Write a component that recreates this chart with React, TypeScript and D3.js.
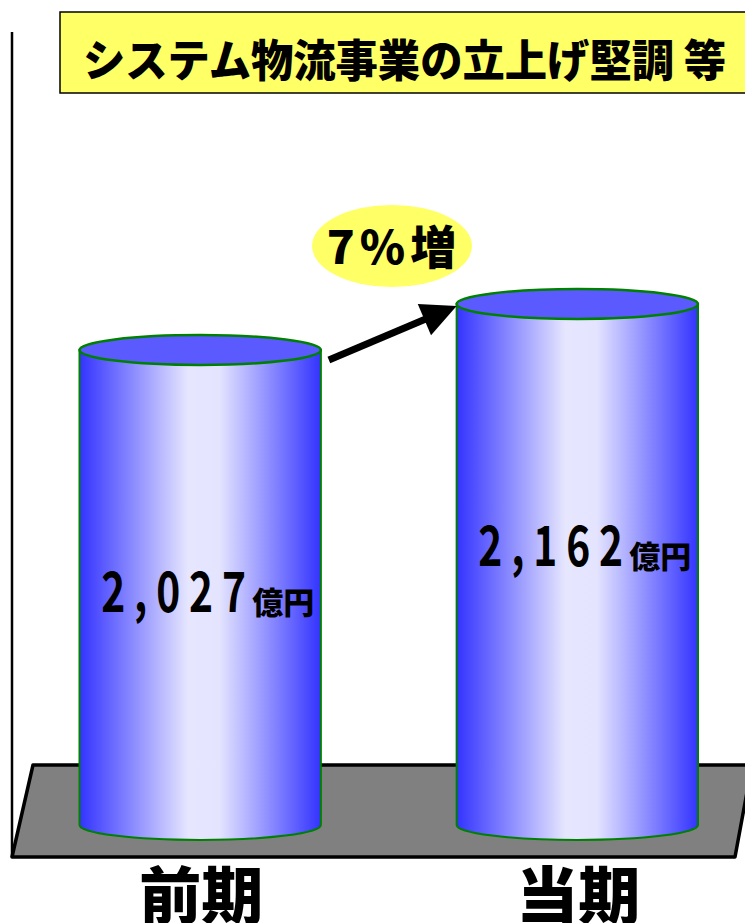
import React from 'react';
import * as d3 from 'd3';

// 前期 / 当期 sales (億円)
const categories = ['前期', '当期'];
const values = [2027, 2162];
const unit = '億円';
const title = 'システム物流事業の立上げ堅調 等';

const W = 745;
const H = 923;
const FLOOR_Y = 825; // where the cylinders stand
const RY = 15; // ellipse half-height of the cylinder caps

const JP = "'Noto Sans CJK JP', 'Noto Sans', sans-serif";

const App: React.FC = () => {
  const x = d3.scaleBand<string>()
    .domain(categories)
    .range([79.5, 698])
    .paddingInner(0.36)
    .paddingOuter(0);

  // baseline is not zero in the original drawing
  const y = d3.scaleLinear()
    .domain([633, 2162])
    .range([FLOOR_Y, 304]);

  const fmt = d3.format(',');
  const growth = Math.round((values[1] / values[0] - 1) * 100);

  const bars = categories.map((c, i) => {
    const left = x(c) as number;
    const right = left + x.bandwidth();
    const cx = left + x.bandwidth() / 2;
    const rx = x.bandwidth() / 2;
    const top = y(values[i]);
    return { c, v: values[i], left, right, cx, rx, top };
  });

  // arrow from first cap to second cap
  const b0 = bars[0];
  const b1 = bars[1];
  const tail = [b0.right + 8, b0.top + 10];
  const tip = [b1.left, b1.top + 2];
  const dx = tip[0] - tail[0];
  const dy = tip[1] - tail[1];
  const len = Math.hypot(dx, dy);
  const ux = dx / len;
  const uy = dy / len;
  const headLen = 35;
  const headHalf = 17;
  const base = [tip[0] - ux * headLen, tip[1] - uy * headLen];
  const head = [
    tip,
    [base[0] - uy * headHalf, base[1] + ux * headHalf],
    [base[0] + uy * headHalf, base[1] - ux * headHalf],
  ].map(p => p.join(',')).join(' ');

  return (
    <svg width={W} height={H} style={{ position: 'absolute', left: 0, top: 0, background: '#fff' }}>
      <defs>
        <linearGradient id="cyl" x1="0" x2="1" y1="0" y2="0">
          <stop offset="0" stopColor="#3333FF" />
          <stop offset="0.45" stopColor="#E6E6FF" />
          <stop offset="0.58" stopColor="#E4E4FF" />
          <stop offset="1" stopColor="#3333FF" />
        </linearGradient>
      </defs>

      {/* left wall */}
      <line x1={12} x2={12} y1={32} y2={857} stroke="#000" strokeWidth={2.5} />

      {/* floor */}
      <polygon
        points="33,765 752,765 735,857 12,857"
        fill="#808080"
        stroke="#000"
        strokeWidth={3.5}
        strokeLinejoin="round"
      />

      {/* title box */}
      <rect x={60} y={12} width={720} height={81} fill="#FFFF66" stroke="#000" strokeWidth={1.5} />
      <text
        x={83}
        y={77}
        fontFamily={JP}
        fontWeight={900}
        fontSize={44}
        textLength={643}
        lengthAdjust="spacingAndGlyphs"
      >
        {title}
      </text>

      {/* cylinders */}
      {bars.map(b => {
        const ly = b.top + 262;
        return (
          <g key={b.c}>
            <path
              d={`M${b.left},${b.top} L${b.left},${FLOOR_Y} A${b.rx},${RY} 0 0 0 ${b.right},${FLOOR_Y} L${b.right},${b.top} Z`}
              fill="url(#cyl)"
              stroke="#008000"
              strokeWidth={2}
            />
            <ellipse cx={b.cx} cy={b.top} rx={b.rx} ry={RY} fill="#5A5AFF" stroke="#008000" strokeWidth={2.5} />
            {/* narrow, widely spaced digits */}
            <text
              transform={`translate(${b.cx - 99},${ly}) scale(0.74,1)`}
              fontFamily={JP}
              fontWeight={700}
              fontSize={55}
              letterSpacing={12}
            >
              {fmt(b.v)}
            </text>
            <text x={b.cx + 52} y={ly + 2} fontFamily={JP} fontWeight={900} fontSize={31}>
              {unit}
            </text>
            <text x={b.cx + 1} y={919} textAnchor="middle" fontFamily={JP} fontWeight={900} fontSize={62}>
              {b.c}
            </text>
          </g>
        );
      })}

      {/* growth arrow */}
      <line
        x1={tail[0]}
        y1={tail[1]}
        x2={base[0] + ux * 4}
        y2={base[1] + uy * 4}
        stroke="#000"
        strokeWidth={7}
      />
      <polygon points={head} fill="#000" />

      {/* growth badge */}
      <ellipse cx={392} cy={246} rx={80} ry={41} fill="#FFFF66" />
      <text x={394} y={264} textAnchor="middle" fontFamily={JP} fontWeight={900} fontSize={46} letterSpacing={5}>
        {`${growth}%増`}
      </text>
    </svg>
  );
};

export default App;
